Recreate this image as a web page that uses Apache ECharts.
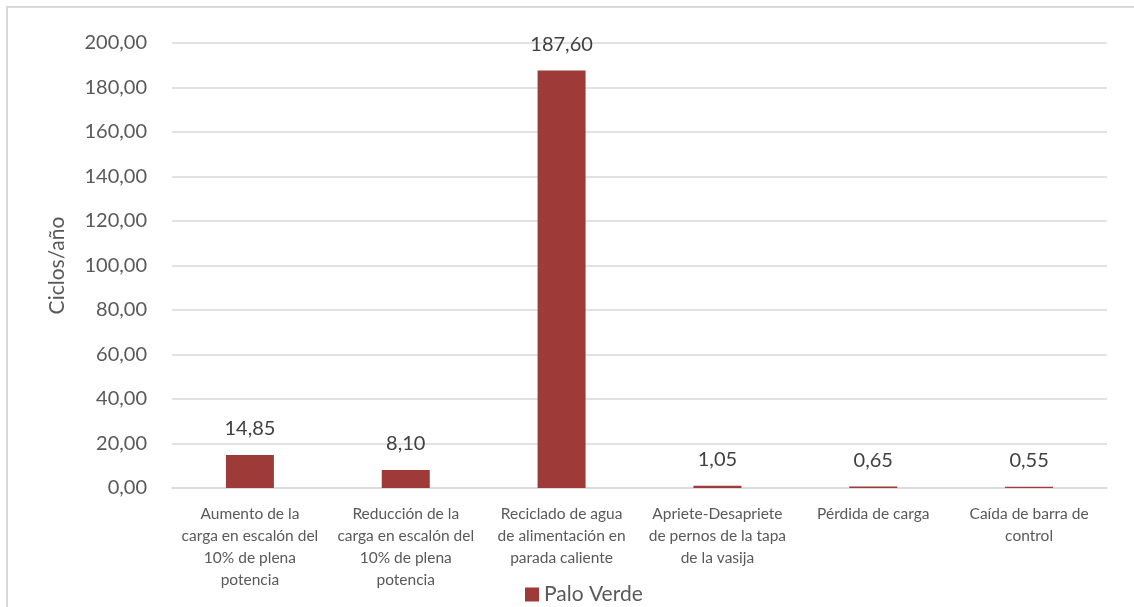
<!DOCTYPE html>
<html>
<head>
<meta charset="utf-8">
<script src="https://cdn.jsdelivr.net/npm/echarts@6/dist/echarts.min.js"></script>
<style>
html,body{margin:0;padding:0;background:#fff;}
#frame{position:absolute;left:6px;top:6px;width:1128px;height:601px;border-top:2px solid #d9d9d9;border-left:2px solid #d9d9d9;box-sizing:border-box;}
#c{position:absolute;left:0;top:0;width:1134px;height:607px;}
</style>
</head>
<body>
<div id="frame"></div>
<div id="c"></div>
<script>
const categories = [
  "Aumento de la\ncarga en escalón del\n10% de plena\npotencia",
  "Reducción de la\ncarga en escalón del\n10% de plena\npotencia",
  "Reciclado de agua\nde alimentación en\nparada caliente",
  "Apriete-Desapriete\nde pernos de la tapa\nde la vasija",
  "Pérdida de carga",
  "Caída de barra de\ncontrol"
];
const seriesName = "Palo Verde";
const values = [14.85, 8.10, 187.60, 1.05, 0.65, 0.55];
const yAxisName = "Ciclos/año";

const fmt = v => Number(v).toFixed(2).replace('.', ',');
const font = "Lato, 'Open Sans', sans-serif";

const chart = echarts.init(document.getElementById('c'), null, {renderer: 'canvas'});
chart.setOption({
  animation: false,
  textStyle: {fontFamily: font},
  grid: {left: 172, right: 27, top: 43, bottom: 119, containLabel: false},
  legend: {
    data: [seriesName],
    left: 520, top: 579,
    itemWidth: 14, itemHeight: 14, itemGap: 5,
    icon: 'rect',
    textStyle: {fontSize: 21, color: '#595959', fontFamily: font}
  },
  xAxis: {
    type: 'category',
    data: categories,
    axisLine: {lineStyle: {color: '#d9d9d9', width: 1.5}},
    axisTick: {show: false},
    axisLabel: {
      interval: 0, margin: 15, fontSize: 15.5, lineHeight: 22,
      color: '#595959', fontFamily: font, align: 'center'
    }
  },
  yAxis: {
    type: 'value',
    min: 0, max: 200, interval: 20,
    name: yAxisName,
    nameLocation: 'middle',
    nameGap: 104,
    nameTextStyle: {fontSize: 21, color: '#595959', fontFamily: font},
    axisLine: {show: false},
    axisTick: {show: false},
    splitLine: {lineStyle: {color: '#d9d9d9', width: 1.5}},
    axisLabel: {
      formatter: fmt, fontSize: 20, color: '#595959', margin: 25, fontFamily: font
    }
  },
  series: [{
    name: seriesName,
    type: 'bar',
    data: values,
    barWidth: 48,
    itemStyle: {color: '#9e3a38'},
    label: {
      show: true, position: 'top', distance: 16,
      formatter: p => fmt(p.value),
      fontSize: 20, color: '#404040', fontFamily: font
    }
  }]
});
</script>
</body>
</html>
